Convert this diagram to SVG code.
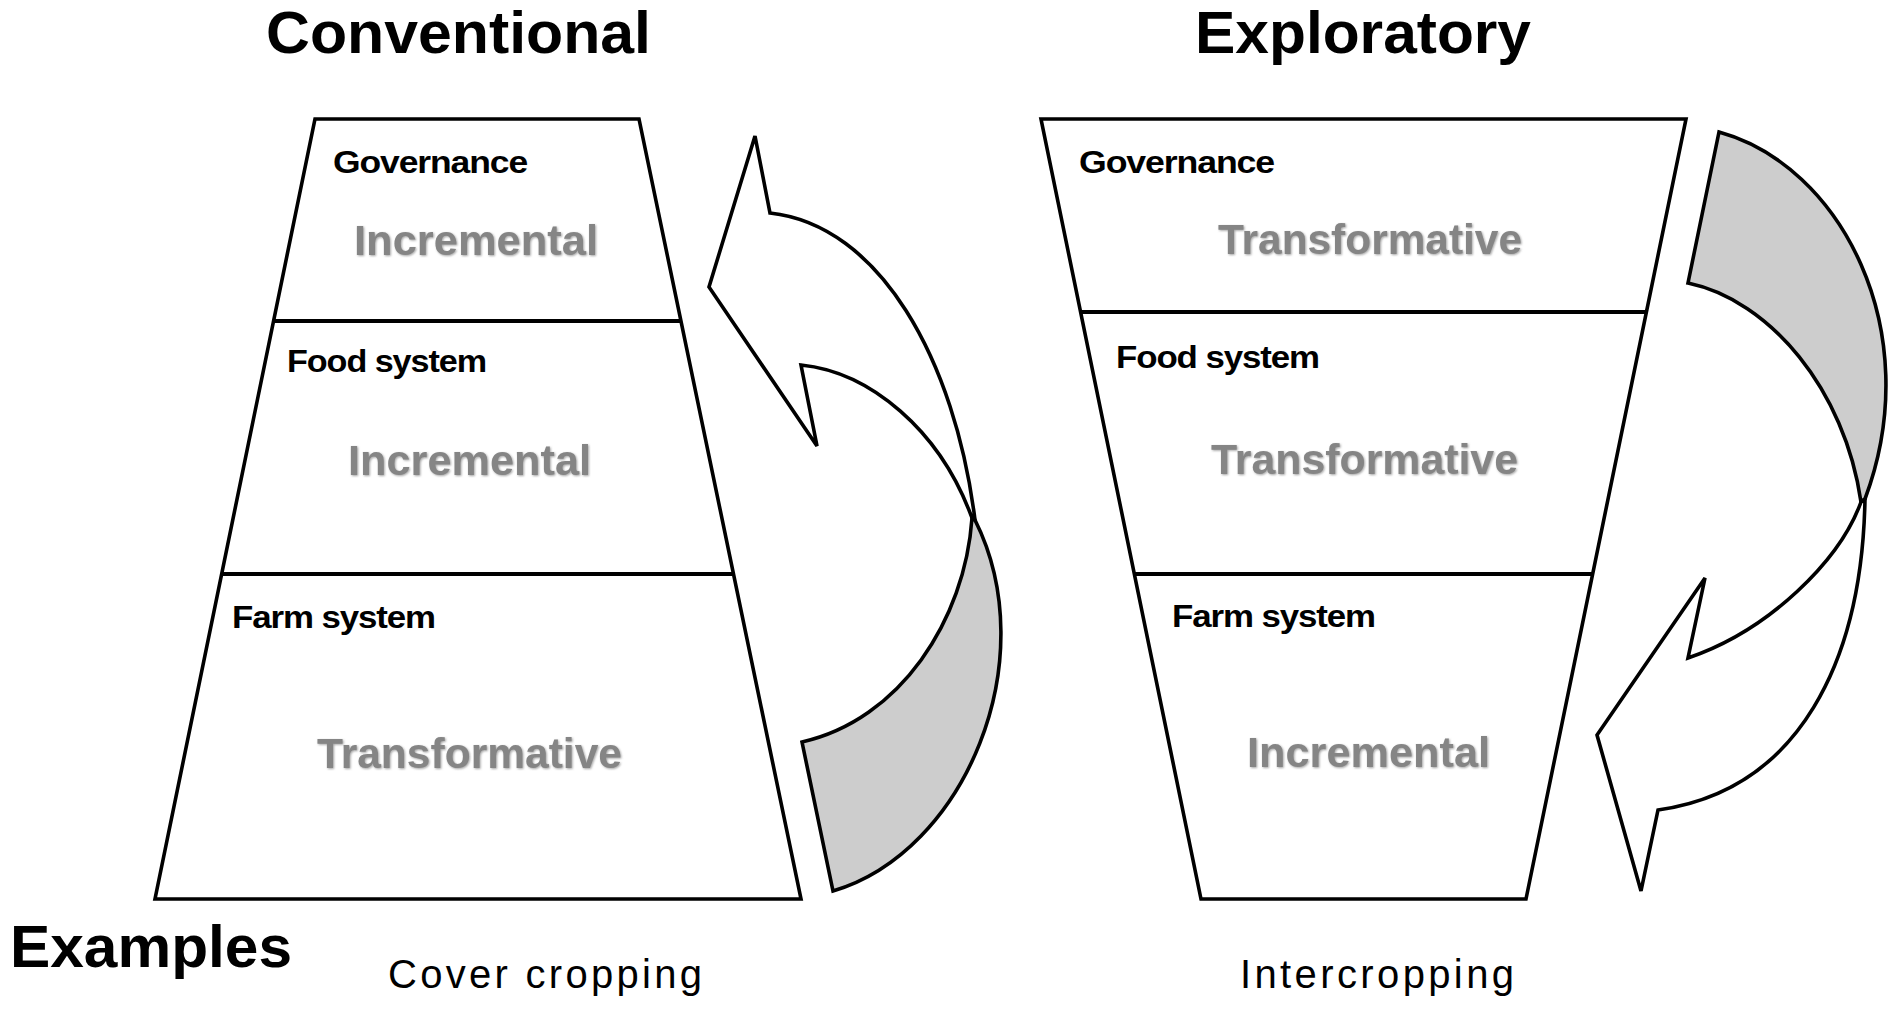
<svg xmlns="http://www.w3.org/2000/svg" width="1902" height="1010" viewBox="0 0 1902 1010">
<defs>
<style>
.shape{fill:#fff;stroke:#000;stroke-width:3.6;stroke-linejoin:miter}
.div{stroke:#000;stroke-width:4;fill:none}
.title{font-family:"Liberation Sans",Arial,sans-serif;font-weight:bold;font-size:60px;fill:#000}
.label{font-family:"Liberation Sans",Arial,sans-serif;font-weight:bold;font-size:32px;fill:#000;letter-spacing:-1px}
.level{font-family:"Liberation Sans",Arial,sans-serif;font-weight:bold;font-size:42px;fill:#858585;filter:url(#shadow)}
.example{font-family:"Liberation Sans",Arial,sans-serif;font-size:40px;fill:#000}
.arrow{fill:#fff;stroke:#000;stroke-width:3.6;stroke-linejoin:miter}
.back{fill:#cdcdcd;stroke:#000;stroke-width:3.6;stroke-linejoin:miter}
</style>
<filter id="shadow" x="-5%" y="-20%" width="110%" height="140%">
<feDropShadow dx="1" dy="1" stdDeviation="1.2" flood-color="#9a9a9a" flood-opacity="0.9"/>
</filter>
</defs>
<rect width="1902" height="1010" fill="#fff"/>

<text class="title" x="266" y="53" textLength="385" lengthAdjust="spacingAndGlyphs">Conventional</text>
<text class="title" x="1195" y="53" textLength="336" lengthAdjust="spacingAndGlyphs">Exploratory</text>

<g id="conventional">
<polygon class="shape" points="315,119 639,119 801,899 155,899"/>
<line class="div" x1="273.6" y1="321" x2="681" y2="321"/>
<line class="div" x1="221.7" y1="574" x2="733.5" y2="574"/>
<g id="conv-governance">
<text class="label" x="333" y="173" textLength="194" lengthAdjust="spacingAndGlyphs">Governance</text>
<text class="level" x="354" y="255" textLength="244" lengthAdjust="spacingAndGlyphs">Incremental</text>
</g>
<g id="conv-food">
<text class="label" x="287" y="372" textLength="199" lengthAdjust="spacingAndGlyphs">Food system</text>
<text class="level" x="348" y="475" textLength="243" lengthAdjust="spacingAndGlyphs">Incremental</text>
</g>
<g id="conv-farm">
<text class="label" x="232" y="628" textLength="203" lengthAdjust="spacingAndGlyphs">Farm system</text>
<text class="level" x="317" y="768" textLength="305" lengthAdjust="spacingAndGlyphs">Transformative</text>
</g>
</g>

<g id="exploratory">
<polygon class="shape" points="1041,119 1686,119 1526,899 1201,899"/>
<line class="div" x1="1080.6" y1="312" x2="1646.4" y2="312"/>
<line class="div" x1="1134.3" y1="574" x2="1592.7" y2="574"/>
<g id="expl-governance">
<text class="label" x="1079" y="173" textLength="195" lengthAdjust="spacingAndGlyphs">Governance</text>
<text class="level" x="1218" y="254" textLength="304" lengthAdjust="spacingAndGlyphs">Transformative</text>
</g>
<g id="expl-food">
<text class="label" x="1116" y="368" textLength="203" lengthAdjust="spacingAndGlyphs">Food system</text>
<text class="level" x="1211" y="474" textLength="307" lengthAdjust="spacingAndGlyphs">Transformative</text>
</g>
<g id="expl-farm">
<text class="label" x="1172" y="627" textLength="203" lengthAdjust="spacingAndGlyphs">Farm system</text>
<text class="level" x="1247" y="767" textLength="243" lengthAdjust="spacingAndGlyphs">Incremental</text>
</g>
</g>

<g id="connectors">
<g id="arrow-up">
<path class="back" d="M802,742 L833,891 C965,852 1045,660 975,520 L972,518 C965,620 900,720 802,742 Z"/>
<path class="arrow" d="M975,520 C955,360 880,225 770,213 L755,136 L709,287 L817,446 L801,365 C870,372 940,430 972,518 Z"/>
</g>
<g id="arrow-down">
<path class="back" d="M1719,132 L1688,283 C1770,300 1845,390 1861,502 L1865,499 C1928,330 1840,165 1719,132 Z"/>
<path class="arrow" d="M1865,499 C1862,660 1800,790 1658,810 L1641,891 L1597,735 L1705,578 L1688,658 C1770,630 1840,560 1861,502 Z"/>
</g>
</g>

<g id="examples">
<text class="title" x="10" y="967" textLength="282" lengthAdjust="spacingAndGlyphs">Examples</text>
<text class="example" x="388" y="988" textLength="314" lengthAdjust="spacing">Cover cropping</text>
<text class="example" x="1240" y="988" textLength="274" lengthAdjust="spacing">Intercropping</text>
</g>
</svg>
